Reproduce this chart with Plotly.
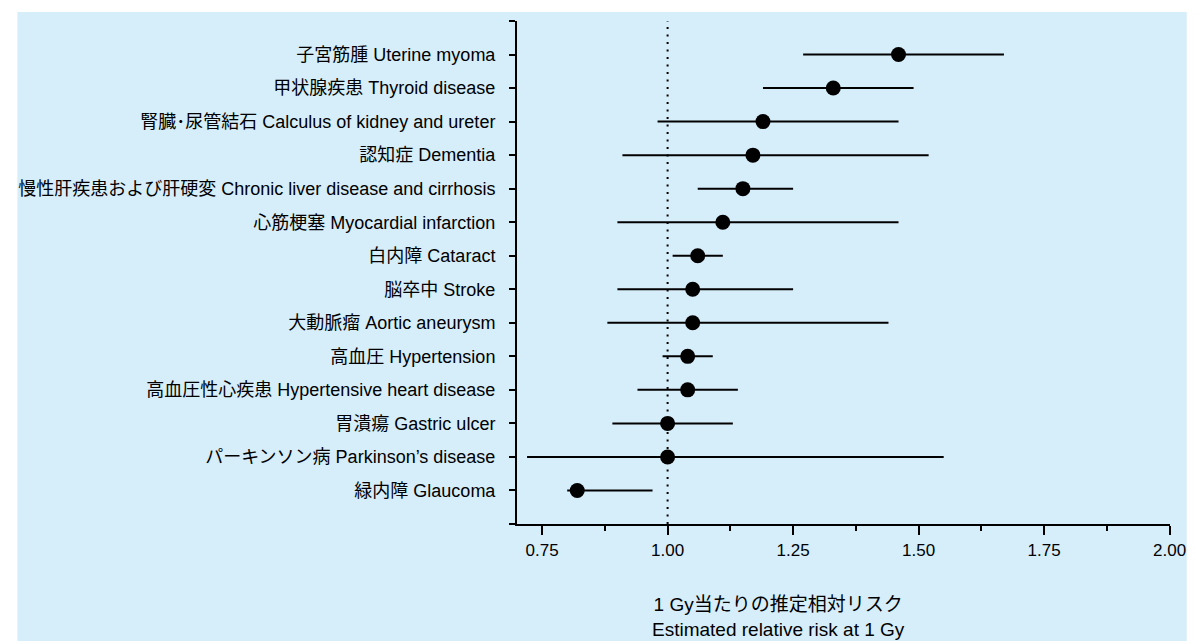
import plotly.graph_objects as go

labels = [
    "子宮筋腫 Uterine myoma",
    "甲状腺疾患 Thyroid disease",
    "腎臓･尿管結石 Calculus of kidney and ureter",
    "認知症 Dementia",
    "慢性肝疾患および肝硬変 Chronic liver disease and cirrhosis",
    "心筋梗塞 Myocardial infarction",
    "白内障 Cataract",
    "脳卒中 Stroke",
    "大動脈瘤 Aortic aneurysm",
    "高血圧 Hypertension",
    "高血圧性心疾患 Hypertensive heart disease",
    "胃潰瘍 Gastric ulcer",
    "パーキンソン病 Parkinson’s disease",
    "緑内障 Glaucoma",
]
rr = [1.46, 1.33, 1.19, 1.17, 1.15, 1.11, 1.06, 1.05, 1.05, 1.04, 1.04, 1.00, 1.00, 0.82]
ci_low = [1.27, 1.19, 0.98, 0.91, 1.06, 0.90, 1.01, 0.90, 0.88, 0.99, 0.94, 0.89, 0.72, 0.80]
ci_high = [1.67, 1.49, 1.46, 1.52, 1.25, 1.46, 1.11, 1.25, 1.44, 1.09, 1.14, 1.13, 1.55, 0.97]

x_major = [0.75, 1.00, 1.25, 1.50, 1.75, 2.00]
x_minor = [0.875, 1.125, 1.375, 1.625, 1.875]
x_ticktext = ["0.75", "1.00", "1.25", "1.50", "1.75", "2.00"]

pos = list(range(1, len(labels) + 1))
font_family = "Liberation Sans, Arial, Noto Sans CJK JP, sans-serif"

W, H = 1198, 641
ML, MR, MT, MB = 517, 17, 21, 117
pw = W - ML - MR
ph = H - MT - MB

def px_x(px):
    return (px - ML) / pw

def px_y(py):
    return (H - MB - py) / ph

fig = go.Figure()
fig.add_trace(go.Scatter(
    x=rr, y=pos, mode="markers",
    marker=dict(size=15, color="black"),
    error_x=dict(type="data", symmetric=False,
                 array=[h - m for h, m in zip(ci_high, rr)],
                 arrayminus=[m - l for m, l in zip(rr, ci_low)],
                 thickness=2, width=0, color="black"),
    showlegend=False, hoverinfo="skip",
))

fig.add_shape(type="rect", xref="paper", yref="paper",
              x0=px_x(9), x1=px_x(W), y0=px_y(H), y1=px_y(12),
              fillcolor="rgb(214,237,250)", line=dict(width=0), layer="below")
fig.add_shape(type="line", xref="x", yref="paper", x0=1.0, x1=1.0, y0=0, y1=1,
              line=dict(color="black", width=2, dash="2px,5.5px"))

fig.add_annotation(xref="paper", yref="paper", x=px_x(783), y=px_y(617),
                   text="1 Gy当たりの推定相対リスク<br>Estimated relative risk at 1 Gy",
                   showarrow=False, xanchor="center", yanchor="middle",
                   font=dict(size=19, color="black", family=font_family))

fig.update_layout(
    width=W, height=H,
    margin=dict(l=ML, r=MR, t=MT, b=MB),
    paper_bgcolor="white", plot_bgcolor="rgba(0,0,0,0)",
    font=dict(family=font_family, color="black"),
    xaxis=dict(range=[0.70, 2.0008], showgrid=False, zeroline=False,
               showline=True, linecolor="black", linewidth=2,
               tickmode="array", tickvals=x_major, ticktext=x_ticktext,
               ticks="outside", ticklen=9, tickwidth=1.5, tickcolor="black",
               tickfont=dict(size=17, color="black"), ticklabelstandoff=1,
               minor=dict(tickvals=x_minor, ticks="outside", ticklen=5,
                          tickwidth=1.5, tickcolor="black")),
    yaxis=dict(range=[15, 0], showgrid=False, zeroline=False,
               showline=True, linecolor="black", linewidth=2,
               tickmode="array", tickvals=[0] + pos + [15],
               ticktext=[""] + labels + [""],
               ticks="outside", ticklen=6, tickwidth=1.5, tickcolor="black",
               tickfont=dict(size=18, color="black"), ticklabelstandoff=10),
)

fig.write_html(
    "out.html",
    config={"displayModeBar": False},
    post_script="document.body.style.margin='0';document.body.style.overflow='hidden';",
)
